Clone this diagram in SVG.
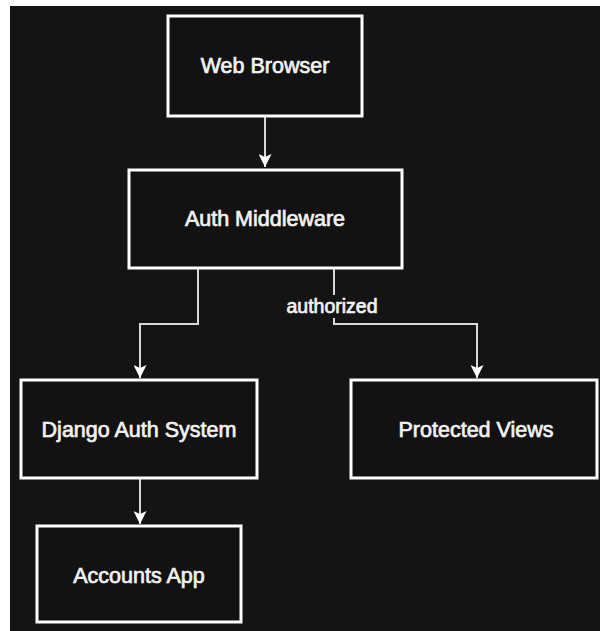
<svg xmlns="http://www.w3.org/2000/svg" width="600" height="631" viewBox="0 0 600 631">
<defs>
<marker id="arr" viewBox="0 0 13 13" refX="13" refY="6.5" markerWidth="13" markerHeight="13" markerUnits="userSpaceOnUse" orient="auto">
<path d="M0,0 L13,6.5 L0,13 L3,6.5 Z" fill="#ffffff"/>
</marker>
</defs>
<style>
.node rect{fill:#121212;stroke:#ffffff;stroke-width:3}
.node text{font-family:"Liberation Sans",Arial,sans-serif;font-size:21.5px;fill:#f2f2f2;stroke:#f2f2f2;stroke-width:0.7;text-anchor:middle}
.edge{fill:none;stroke:#d8d8d8;stroke-width:2}
.lbl{font-family:"Liberation Sans",Arial,sans-serif;font-size:19.5px;fill:#f2f2f2;stroke:#f2f2f2;stroke-width:0.7;text-anchor:middle}
</style>
<rect x="0" y="0" width="600" height="631" fill="#ffffff"/>
<rect x="10" y="6" width="590" height="625" fill="#141414"/>
<g id="connectors">
<path class="edge" d="M265,117 L265,167" marker-end="url(#arr)"/>
<path class="edge" d="M198,269 L198,324 L140,324 L140,378" marker-end="url(#arr)"/>
<path class="edge" d="M334,269 L334,324 L477,324 L477,378" marker-end="url(#arr)"/>
<path class="edge" d="M140,479 L140,524" marker-end="url(#arr)"/>
<rect x="285" y="295" width="94" height="23" fill="#141414"/>
<text class="lbl" x="332" y="313">authorized</text>
</g>
<g id="web-browser" class="node">
<rect x="168" y="16" width="194" height="100"/>
<text x="265" y="73">Web Browser</text>
</g>
<g id="auth-middleware" class="node">
<rect x="129" y="170" width="273" height="98"/>
<text x="265" y="226">Auth Middleware</text>
</g>
<g id="django-auth-system" class="node">
<rect x="21" y="380" width="236" height="98"/>
<text x="139" y="437">Django Auth System</text>
</g>
<g id="protected-views" class="node">
<rect x="351" y="380" width="246" height="98"/>
<text x="476" y="437">Protected Views</text>
</g>
<g id="accounts-app" class="node">
<rect x="37" y="526" width="204" height="96"/>
<text x="139" y="583">Accounts App</text>
</g>
</svg>
